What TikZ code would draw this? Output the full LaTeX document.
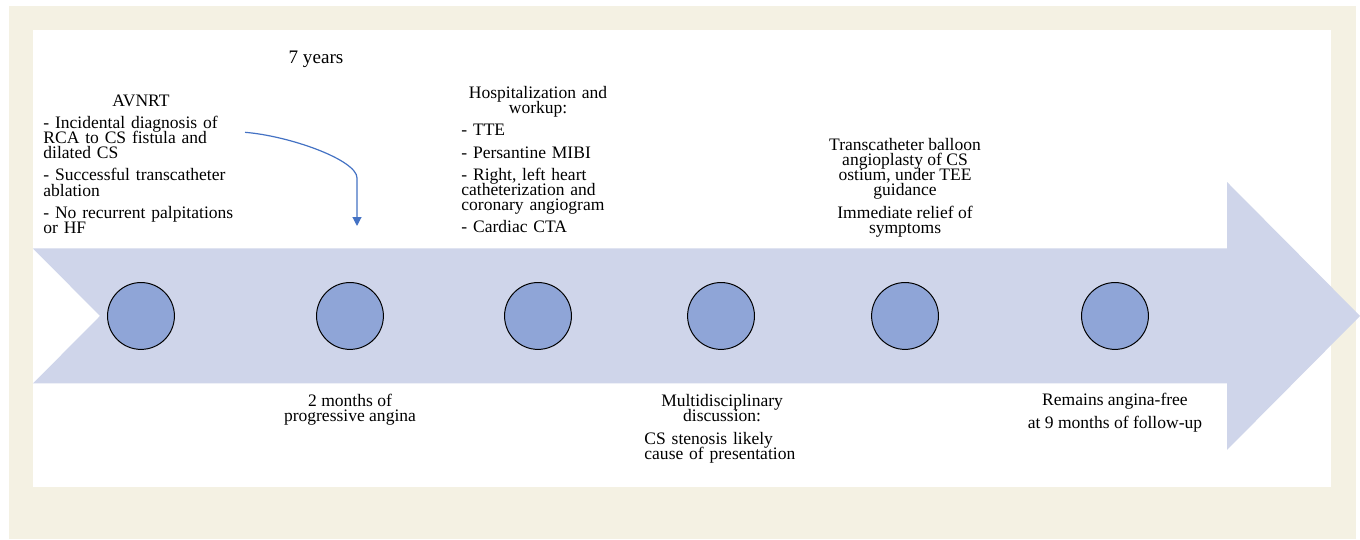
\documentclass[tikz,border=0pt]{standalone}
\usepackage{fontspec}
\setmainfont{Liberation Serif}
\usetikzlibrary{arrows.meta}
\newcommand{\tlfont}{\fontsize{8.8}{7.6}\selectfont\lineskiplimit=-20pt\relax}

\begin{document}
\begin{tikzpicture}[
  txt/.style={inner sep=0pt, font=\tlfont},
  mid/.style={txt, align=center},
  blk/.style={txt, text width=#1},
  dot/.style={circle, draw=black, line width=0.5pt, fill=colordot, minimum size=1.18cm, inner sep=0pt},
  flow/.style={-{Triangle[length=4.5pt,width=4.5pt]}, line width=0.6pt, draw=colorflow}
]
% Define colors
\definecolor{colorbg}{HTML}{F4F1E3}
\definecolor{colorband}{HTML}{CFD5EA}
\definecolor{colordot}{HTML}{8FA5D7}
\definecolor{colorflow}{HTML}{4472C4}
\useasboundingbox (0,0) rectangle (24,9.512);
  %%%%%%%%%%Frame
  \fill[colorbg] (0.159,0) rectangle (23.929,9.406);
  \fill[white] (0.582,0.918) rectangle (23.488,8.983);
  %%%%%%%%%%Timeline arrow
  \fill[colorband] (0.582,5.127) -- (21.653,5.127) -- (21.653,6.300) -- (24,3.936)
    -- (21.653,1.572) -- (21.653,2.745) -- (0.582,2.745) -- (1.765,3.936) -- cycle;
  %Milestones
  \node[dot] (m1) at (2.488,3.936) {};
  \node[dot] (m2) at (6.176,3.936) {};
  \node[dot] (m3) at (9.494,3.936) {};
  \node[dot] (m4) at (12.724,3.936) {};
  \node[dot] (m5) at (15.971,3.936) {};
  \node[dot] (m6) at (19.676,3.936) {};
  %%%%%%%%%%Texts above
  \node[txt, anchor=base, font=\fontsize{9.6}{9.6}\selectfont] (gap) at (5.576,8.395) {7 years};
  \node[blk=98pt, anchor=base west] (avnrt) at (0.759,7.641) {\centering AVNRT\par\vspace{3.6pt}\raggedright
    - Incidental diagnosis of\\RCA to CS fistula and\\dilated CS\\[3.6pt]- Successful transcatheter\\ablation\\[3.6pt]- No recurrent palpitations\\or HF};
  \node[blk=77pt, anchor=base west] (work) at (8.135,7.777) {\centering Hospitalization and\\workup:\par\vspace{3.6pt}\raggedright
    - TTE\\[3.6pt]- Persantine MIBI\\[3.6pt]- Right, left heart\\catheterization and\\coronary angiogram\\[3.6pt]- Cardiac CTA};
  \node[mid, anchor=base] (balloon) at (15.971,5.395) {Transcatheter balloon\\angioplasty of CS\\ostium, under TEE\\guidance\\[3.6pt]Immediate relief of\\symptoms};
  %%%%%%%%%%Texts below
  \node[mid, anchor=base] (angina) at (6.176,2.070) {2 months of\\progressive angina};
  \node[blk=78pt, anchor=base west] (team) at (11.365,2.335) {\centering Multidisciplinary\\discussion:\par\vspace{3.6pt}\raggedright
    CS stenosis likely\\cause of presentation};
  \node[mid, anchor=base] (follow) at (19.676,1.959) {Remains angina-free\\[3.6pt]at 9 months of follow-up};
  %%%%%%%%%%Interval arrow
  \coordinate (from) at (4.324,7.177);
  \coordinate (bend) at (6.300,6.371);
  \coordinate (to) at (6.300,5.524);
  \draw[flow] (from) .. controls (5.118,7.112) and (6.300,6.688) .. (bend) -- (to);
\end{tikzpicture}
\end{document}
